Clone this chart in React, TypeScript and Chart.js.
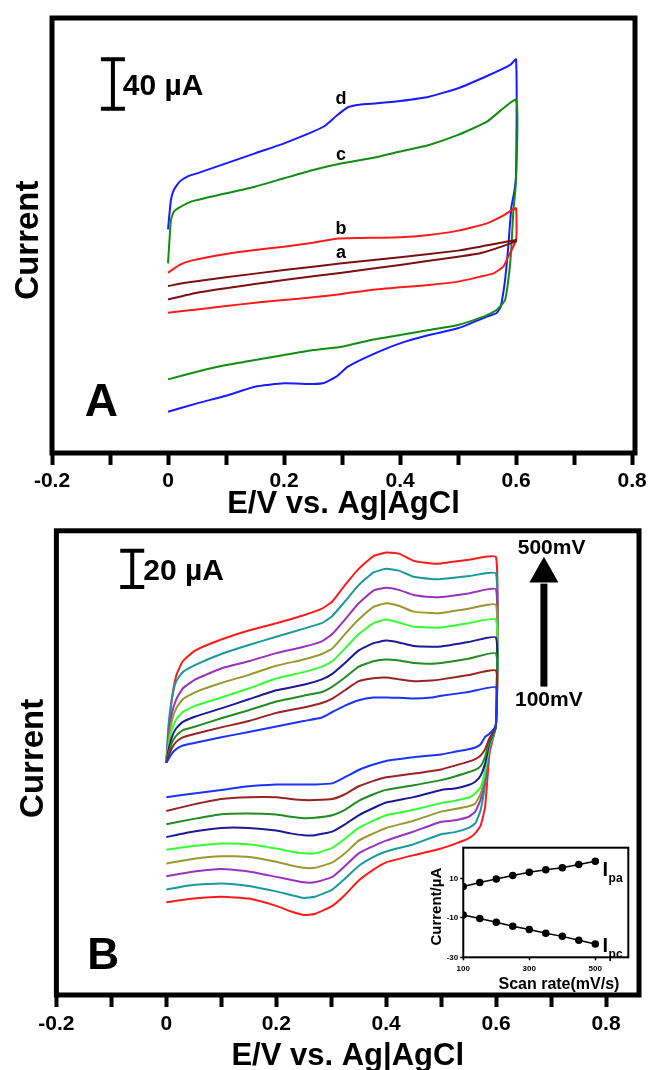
import React, { useEffect, useRef } from 'react';
import { Chart, registerables } from 'chart.js';

Chart.register(...registerables);

const FONT = '"Liberation Sans", Arial, Helvetica, sans-serif';

// ---------- shared axis ticks ----------
const potentialTicks = [-0.2, -0.1, 0, 0.1, 0.2, 0.3, 0.4, 0.5, 0.6, 0.7, 0.8];
const potentialTickLabels = ['-0.2', '', '0', '', '0.2', '', '0.4', '', '0.6', '', '0.8'];

// ---------- Panel A (E / V, current / µA) ----------
const aCurveE = [0, 0.03, 0.1, 0.2, 0.3, 0.4, 0.5, 0.538, 0.6, 0.6, 0.538, 0.5, 0.4, 0.3, 0.2, 0.1, 0.05, 0];
const aCurveI = [38.3, 41, 45.4, 51.3, 56.7, 61.6, 67, 70.2, 75.6, 74.5, 64.8, 62.1, 55.4, 49.1, 43.2, 36.5, 32.9, 27.5];

const bCurveE = [0, 0.02, 0.04, 0.1, 0.15, 0.2, 0.25, 0.29, 0.33, 0.4, 0.45, 0.5, 0.55, 0.58, 0.593, 0.6, 0.6, 0.5865, 0.578, 0.561, 0.538, 0.5, 0.45, 0.4, 0.35, 0.3, 0.25, 0.2, 0.15, 0.1, 0.05, 0];
const bCurveI = [49.1, 55.4, 58.9, 64.3, 67.5, 70.2, 73.4, 76.7, 77.2, 77.8, 79.7, 83.2, 89.1, 95.9, 100, 101.3, 75.6, 62.1, 54, 48.6, 45.9, 41.9, 39.2, 37.3, 35.1, 31.9, 29.2, 27, 24.8, 22.1, 19.4, 16.7];

const cCurveE = [0, 0.005, 0.01, 0.02, 0.04, 0.1, 0.15, 0.2, 0.25, 0.3, 0.35, 0.4, 0.45, 0.5, 0.55, 0.6, 0.6, 0.595, 0.592, 0.588, 0.581, 0.5665, 0.5435, 0.5, 0.45, 0.4, 0.35, 0.3, 0.25, 0.2, 0.15, 0.1, 0.05, 0];
const cCurveI = [56.7, 91.8, 98.6, 102.1, 106.7, 113.4, 118.8, 125.6, 132.3, 137.7, 141.8, 147.2, 152.6, 160.7, 171.5, 189, 124, 97.2, 70.2, 48.6, 27, 18.9, 13.5, 6.8, 2.7, -1.4, -5.4, -10.8, -13.5, -17.6, -21.6, -25.7, -31.1, -37.3];

const dCurveE = [0, 0.005, 0.01, 0.02, 0.035, 0.05, 0.1, 0.15, 0.2, 0.25, 0.27, 0.29, 0.31, 0.33, 0.36, 0.4, 0.45, 0.5, 0.55, 0.59, 0.6, 0.6, 0.597, 0.592, 0.5865, 0.581, 0.5734, 0.5665, 0.55, 0.5, 0.45, 0.4, 0.35, 0.31, 0.29, 0.27, 0.25, 0.2, 0.15, 0.1, 0.05, 0];
const dCurveI = [84.2, 108, 116.1, 122.9, 127.4, 129.6, 137.7, 145.8, 153.9, 163.4, 167.9, 176, 183.1, 185.2, 186.3, 188.2, 191.7, 198.5, 208.4, 217.4, 221.9, 129.9, 115, 102.6, 70.2, 43.2, 21.6, 16.5, 13.5, 4.1, -1.4, -8.1, -17.6, -27, -35.1, -40, -41, -40.5, -43.2, -50.5, -56.7, -63.5];

// ---------- Panel B (scan rates 100 → 500 mV/s) ----------
const scanUpperE = [0, 0.004, 0.01, 0.018, 0.03, 0.053, 0.1, 0.15, 0.2, 0.25, 0.283, 0.302, 0.325, 0.35, 0.377, 0.4, 0.423, 0.45, 0.483, 0.5, 0.55, 0.6];
const scanLowerE = [0.6, 0.598, 0.588, 0.58, 0.572, 0.562, 0.55, 0.525, 0.5, 0.45, 0.4, 0.377, 0.35, 0.325, 0.302, 0.27, 0.25, 0.226, 0.2, 0.15, 0.1, 0.05, 0];

const upper100 = [15, 17, 20, 22.5, 24.5, 26, 29, 32, 35, 38, 40, 43, 46.5, 49.5, 51, 51, 50.8, 50.4, 51, 52, 54, 56.6];
const upper150 = [15, 18.5, 23, 26.5, 29, 31, 34.5, 38, 42.5, 45.5, 48, 50.4, 55, 60, 61.6, 62, 61, 60, 60.4, 61, 63.4, 65.8];
const upper200 = [15, 20, 26, 30, 33, 35, 39.5, 44, 48.8, 52, 54, 57, 62, 68, 71, 72, 71.4, 70, 69.6, 70, 72.4, 75.2];
const upper250 = [15, 22, 29, 34, 37.5, 40.5, 45, 50, 55, 58, 61, 64, 70, 77, 81, 82.4, 81.4, 79.4, 79, 79.2, 81.6, 84];
const upper300 = [15, 24, 33, 39, 43, 46.5, 51, 56, 61.5, 65, 68, 71, 78, 86, 92, 94, 92.4, 90, 89.6, 89.6, 92, 93.8];
const upper350 = [15, 27, 38, 45, 50, 54, 59, 63.5, 68.5, 72, 75, 78, 86, 94, 101, 103, 101.6, 98.4, 97.6, 97.6, 100, 102];
const upper400 = [15, 30, 42, 50, 56, 61, 67, 71, 75.5, 79, 82, 86, 94, 103, 110, 111.6, 110.4, 107.6, 106.4, 106.4, 108.4, 110.6];
const upper450 = [15, 36, 50, 60, 65, 69, 75, 80, 84.5, 89, 92, 96, 104, 113, 120, 122, 121, 117.6, 116.4, 116.4, 118, 119.3];
const upper500 = [15, 32, 50, 63, 71, 77, 83, 88, 92, 96.4, 100, 104, 113, 122, 129, 131, 130.4, 126.4, 125, 125, 127, 128.4];

const lower100 = [37, 34.5, 31, 29.3, 25.2, 23.4, 22.4, 21, 19.6, 18, 16, 14, 11, 7, 3.6, 3, 3, 3, 3, 2, 0, -2, -4];
const lower150 = [37, 34, 28.5, 22.5, 19, 17, 15.6, 13.4, 11.3, 9, 7, 5, 2, -2.4, -5, -5.6, -5.6, -5, -4, -4, -5, -8, -11.6];
const lower200 = [37, 33, 27, 18.3, 13.2, 11, 9.8, 7.4, 5.4, 2.6, 0, -2.4, -6, -11, -14, -15.4, -15.6, -14.8, -13.6, -13, -13.4, -16, -19];
const lower250 = [37, 33, 26, 14.5, 8, 4.5, 2.7, 0.8, 0, -4, -7, -10, -14, -19, -23, -25, -25, -24, -22.4, -21, -21, -23, -26];
const lower300 = [37, 33, 25, 11, 1.5, -2, -4.2, -6, -7.3, -11, -14, -17, -21, -27, -32, -35, -35, -34, -32.4, -30, -29.6, -31, -33];
const lower350 = [37, 33, 24, 9, -2, -7.5, -9, -10.6, -12, -17, -21, -24, -28, -35, -40, -43, -43, -41.6, -39.6, -37, -36.6, -38, -40.6];
const lower400 = [37, 33, 23, 7, -5.2, -12, -14.8, -16.8, -17.6, -23, -28, -31, -35, -42, -48, -51, -51, -49.6, -48, -45, -43.6, -45, -47.6];
const lower450 = [37, 33, 22, 3, -11, -18.5, -21, -23.3, -24.5, -30, -34, -37, -42, -49, -55, -59, -59.6, -58, -56, -53, -51.6, -52.4, -55];
const lower500 = [37, 33, 20, -9.3, -19.5, -24, -26.8, -29.8, -32.3, -36, -40, -44, -50, -58, -64, -68.5, -69, -67, -64, -60, -59, -60, -62];

// ---------- Inset (peak currents vs scan rate) ----------
const scanRates = [100, 150, 200, 250, 300, 350, 400, 450, 500];
const ipa = [5.9, 7.9, 9.7, 11.4, 13.1, 14.3, 15.3, 17, 18.6];
const ipc = [-8.6, -10.3, -12.2, -14.3, -15.9, -17.8, -19.4, -21.4, -23.3];
const insetXTicks = [100, 300, 500];
const insetYTicks = [-30, -10, 10];

// ---------- helpers ----------
const pts = (xs: number[], ys: number[]) => xs.map((x, i) => ({ x, y: ys[i] }));

const cvLine = (label: string, xs: number[], ys: number[], color: string) => ({
  label,
  data: pts(xs, ys),
  borderColor: color,
  backgroundColor: color,
  borderWidth: 2,
  pointRadius: 0,
  showLine: true,
  fill: false,
  tension: 0.15,
});

const bold = (size: number, lineHeight = 1.2) => ({ family: FONT, size, weight: 'bold' as const, lineHeight });

function mainOptions(o: any) {
  return {
    responsive: false,
    animation: false,
    layout: { padding: o.layout },
    plugins: { legend: { display: false }, tooltip: { enabled: false }, title: { display: false } },
    scales: {
      x: {
        type: 'linear',
        min: -0.2,
        max: o.xMax,
        afterBuildTicks: (s: any) => {
          s.ticks = potentialTicks.map((v) => ({ value: v }));
        },
        ticks: {
          callback: (_v: any, i: number) => potentialTickLabels[i],
          font: bold(21, o.tickLineHeight),
          color: '#000',
          padding: 0,
          maxRotation: 0,
          autoSkip: false,
        },
        grid: { display: true, drawOnChartArea: false, drawTicks: true, tickLength: 12, tickWidth: 4, tickColor: '#000' },
        border: { display: false },
        title: { display: true, text: 'E/V vs. Ag|AgCl', font: bold(31), color: '#000', padding: o.xTitlePad },
      },
      y: {
        type: 'linear',
        min: o.yMin,
        max: o.yMax,
        ticks: { display: false },
        grid: { display: false, drawTicks: false },
        border: { display: false },
        title: { display: true, text: o.yText, font: bold(33), color: '#000', padding: o.yTitlePad },
      },
    },
  };
}

function drawFrame(chart: any, width: number) {
  const { ctx, chartArea: a } = chart;
  ctx.save();
  ctx.lineWidth = width;
  ctx.strokeStyle = '#000';
  ctx.strokeRect(a.left, a.top, a.right - a.left, a.bottom - a.top);
  ctx.restore();
}

// text centred (by cap height) on a data position
function drawText(chart: any, text: string, e: number, v: number, size: number, align: CanvasTextAlign = 'center') {
  const { ctx, scales } = chart;
  ctx.save();
  ctx.fillStyle = '#000';
  ctx.font = `bold ${size}px ${FONT}`;
  ctx.textAlign = align;
  ctx.textBaseline = 'alphabetic';
  ctx.fillText(text, scales.x.getPixelForValue(e), scales.y.getPixelForValue(v) + 0.358 * size);
  ctx.restore();
}

function drawScaleBar(chart: any, e: number, top: number, span: number, text: string, textE: number) {
  const { ctx, scales } = chart;
  const x = scales.x.getPixelForValue(e);
  const y1 = scales.y.getPixelForValue(top);
  const y2 = scales.y.getPixelForValue(top - span);
  ctx.save();
  ctx.strokeStyle = '#000';
  ctx.lineWidth = 4;
  ctx.beginPath();
  ctx.moveTo(x, y1);
  ctx.lineTo(x, y2);
  ctx.moveTo(x - 12, y1);
  ctx.lineTo(x + 12, y1);
  ctx.moveTo(x - 12, y2);
  ctx.lineTo(x + 12, y2);
  ctx.stroke();
  ctx.restore();
  drawText(chart, text, textE, top - span / 2, 30, 'left');
}

const annotA = {
  id: 'annotA',
  afterDraw(chart: any) {
    drawFrame(chart, 5);
    drawScaleBar(chart, -0.095, 222, 40, '40 µA', -0.078);
    drawText(chart, 'd', 0.298, 190.6, 18);
    drawText(chart, 'c', 0.298, 145.5, 18);
    drawText(chart, 'b', 0.298, 85.3, 18);
    drawText(chart, 'a', 0.298, 66.5, 18);
    drawText(chart, 'A', -0.115, -54, 46);
  },
};

const annotB = {
  id: 'annotB',
  afterDraw(chart: any) {
    drawFrame(chart, 5);
    drawScaleBar(chart, -0.062, 132, 20, '20 µA', -0.042);
    const { ctx, scales } = chart;
    const xa = scales.x.getPixelForValue(0.687);
    const yTail = scales.y.getPixelForValue(57);
    const yBase = scales.y.getPixelForValue(114.4);
    const yTip = scales.y.getPixelForValue(128.7);
    ctx.save();
    ctx.strokeStyle = '#000';
    ctx.fillStyle = '#000';
    ctx.lineWidth = 7;
    ctx.beginPath();
    ctx.moveTo(xa, yTail);
    ctx.lineTo(xa, yBase + 1);
    ctx.stroke();
    ctx.beginPath();
    ctx.moveTo(xa, yTip);
    ctx.lineTo(xa - 14.5, yBase);
    ctx.lineTo(xa + 14.5, yBase);
    ctx.closePath();
    ctx.fill();
    ctx.restore();
    drawText(chart, '500mV', 0.701, 134.3, 21);
    drawText(chart, '100mV', 0.696, 50.2, 21);
    drawText(chart, 'B', -0.115, -90, 44);
  },
};

const annotInset = {
  id: 'annotInset',
  afterDraw(chart: any) {
    drawFrame(chart, 2);
    const { ctx, scales } = chart;
    const sub = (e: number, v: number, s: string) => {
      const x = scales.x.getPixelForValue(e);
      const y = scales.y.getPixelForValue(v);
      ctx.save();
      ctx.fillStyle = '#000';
      ctx.textBaseline = 'alphabetic';
      ctx.textAlign = 'left';
      ctx.font = `bold 20px ${FONT}`;
      ctx.fillText('I', x, y + 7.2);
      const w = ctx.measureText('I').width;
      ctx.font = `bold 12px ${FONT}`;
      ctx.fillText(s, x + w + 0.5, y + 13);
      ctx.restore();
    };
    sub(522, 14.6, 'pa');
    sub(522, -23.6, 'pc');
  },
};

const insetOptions = {
  responsive: false,
  animation: false,
  layout: { padding: { left: 4, top: 17.7, right: 11.7, bottom: 0 } },
  plugins: { legend: { display: false }, tooltip: { enabled: false } },
  scales: {
    x: {
      type: 'linear',
      min: 100,
      max: 600,
      afterBuildTicks: (s: any) => {
        s.ticks = insetXTicks.map((v) => ({ value: v }));
      },
      ticks: { font: bold(8, 1.675), color: '#000', padding: 2, maxRotation: 0, autoSkip: false },
      grid: { display: true, drawOnChartArea: false, tickLength: 3, tickWidth: 1.5, tickColor: '#000' },
      border: { display: false },
      title: { display: true, text: 'Scan rate(mV/s)  ', align: 'end', font: bold(16), color: '#000', padding: { top: -3, bottom: 6.1 } },
    },
    y: {
      type: 'linear',
      min: -30,
      max: 25.5,
      afterBuildTicks: (s: any) => {
        s.ticks = insetYTicks.map((v) => ({ value: v }));
      },
      ticks: { font: bold(8), color: '#000', padding: 2, autoSkip: false },
      grid: { display: true, drawOnChartArea: false, tickLength: 3, tickWidth: 1.5, tickColor: '#000' },
      border: { display: false },
      title: { display: true, text: 'Current/µA  ', font: bold(15), color: '#000', padding: { top: 23.5, bottom: -0.8 } },
    },
  },
};

export default function App() {
  const refA = useRef<HTMLCanvasElement>(null);
  const refB = useRef<HTMLCanvasElement>(null);
  const refC = useRef<HTMLCanvasElement>(null);

  useEffect(() => {
    const chartA = new Chart(refA.current as HTMLCanvasElement, {
      type: 'scatter',
      data: {
        datasets: [
          cvLine('a', aCurveE, aCurveI, '#7a1010'),
          cvLine('b', bCurveE, bCurveI, '#ff1a1a'),
          cvLine('c', cCurveE, cCurveI, '#128c12'),
          cvLine('d', dCurveE, dCurveI, '#1a1aff'),
        ],
      } as any,
      options: mainOptions({
        layout: { left: 4, right: 14, top: 18, bottom: 0 },
        xMax: 0.805,
        yMin: -96.9,
        yMax: 255.4,
        tickLineHeight: 1.505,
        xTitlePad: { top: -11.2, bottom: -2.6 },
        yText: 'Current ',
        yTitlePad: { top: 5.2, bottom: 3.2 },
      }) as any,
      plugins: [annotA],
    });

    const rates = [
      ['100 mV/s', upper100, lower100, '#1a33ff'],
      ['150 mV/s', upper150, lower150, '#992222'],
      ['200 mV/s', upper200, lower200, '#228b22'],
      ['250 mV/s', upper250, lower250, '#1a1a99'],
      ['300 mV/s', upper300, lower300, '#33ff33'],
      ['350 mV/s', upper350, lower350, '#999933'],
      ['400 mV/s', upper400, lower400, '#9933bb'],
      ['450 mV/s', upper450, lower450, '#1a9999'],
      ['500 mV/s', upper500, lower500, '#ff1a1a'],
    ] as [string, number[], number[], string][];

    const chartB = new Chart(refB.current as HTMLCanvasElement, {
      type: 'scatter',
      data: {
        datasets: rates.map(([label, up, low, color]) =>
          cvLine(label, scanUpperE.concat(scanLowerE), up.concat(low), color)
        ),
      } as any,
      options: mainOptions({
        layout: { left: 4, right: 10, top: 10.8, bottom: 0 },
        xMax: 0.86,
        yMin: -113.2,
        yMax: 143,
        tickLineHeight: 1.619,
        xTitlePad: { top: -3.6, bottom: -4.6 },
        yText: ' Current',
        yTitlePad: { top: 10.2, bottom: 2.6 },
      }) as any,
      plugins: [annotB],
    });

    const inset = new Chart(refC.current as HTMLCanvasElement, {
      type: 'scatter',
      data: {
        datasets: [
          {
            label: 'Ipa',
            data: pts(scanRates, ipa),
            borderColor: '#000',
            backgroundColor: '#000',
            pointBackgroundColor: '#000',
            borderWidth: 1.5,
            pointRadius: 3,
            showLine: true,
            tension: 0,
          },
          {
            label: 'Ipc',
            data: pts(scanRates, ipc),
            borderColor: '#000',
            backgroundColor: '#000',
            pointBackgroundColor: '#000',
            borderWidth: 1.5,
            pointRadius: 3,
            showLine: true,
            tension: 0,
          },
        ],
      } as any,
      options: insetOptions as any,
      plugins: [annotInset],
    });

    return () => {
      chartA.destroy();
      chartB.destroy();
      inset.destroy();
    };
  }, []);

  return (
    <div style={{ position: 'absolute', left: 0, top: 0, width: 649, height: 1070, background: '#fff', overflow: 'hidden' }}>
      <canvas ref={refA} width={649} height={520} style={{ position: 'absolute', left: 0, top: 0, width: 649, height: 520 }} />
      <canvas ref={refB} width={649} height={550} style={{ position: 'absolute', left: 0, top: 520, width: 649, height: 550 }} />
      <canvas ref={refC} width={240} height={170} style={{ position: 'absolute', left: 400, top: 830, width: 240, height: 170 }} />
    </div>
  );
}
